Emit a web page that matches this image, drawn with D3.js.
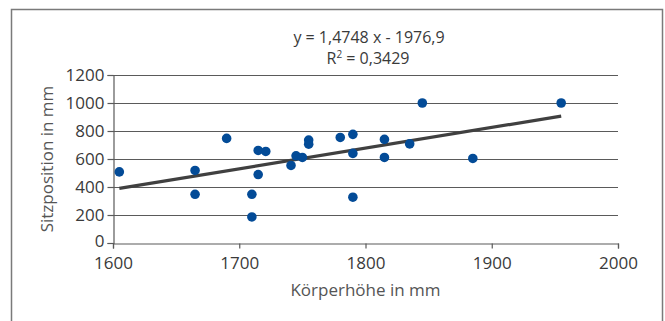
<!DOCTYPE html>
<html>
<head>
<meta charset="utf-8">
<script src="https://cdn.jsdelivr.net/npm/d3@7"></script>
<style>
  body { margin: 0; background: #fff; }
  svg text { font-family: "Open Sans", sans-serif; fill: #3a3a3a; }
</style>
</head>
<body>
<div id="chart"></div>
<script>
// Körperhöhe (mm) vs. Sitzposition (mm)
const koerperhoehe = [1605, 1665, 1665, 1690, 1715, 1721, 1715, 1710, 1710, 1741, 1745, 1750,
  1755, 1755, 1780, 1790, 1790, 1790, 1815, 1815, 1835, 1845, 1885, 1955];
const sitzposition = [508, 518, 348, 747, 661, 654, 489, 348, 186, 554, 623, 611,
  735, 706, 754, 776, 640, 327, 740, 611, 708, 1000, 604, 1000];
const xTicks = [1600, 1700, 1800, 1900, 2000];
const yTicks = [0, 200, 400, 600, 800, 1000, 1200];
const slope = 1.4748, intercept = -1976.9;
const equation = 'y = 1,4748 x - 1976,9';

const W = 665, H = 321;
const margin = { top: 75, right: 47, bottom: 78, left: 113 };
const width = W - margin.left - margin.right;
const height = H - margin.top - margin.bottom;

const svg = d3.select('#chart').append('svg')
  .attr('width', W)
  .attr('height', H);

// outer frame
svg.append('rect')
  .attr('x', 11.5).attr('y', 9.5)
  .attr('width', 651).attr('height', 330)
  .attr('fill', 'none')
  .attr('stroke', '#7a7a7a')
  .attr('stroke-width', 1.5);

const g = svg.append('g')
  .attr('transform', 'translate(' + margin.left + ',' + margin.top + ')');

const x = d3.scaleLinear().domain([1600, 2000]).range([0, width]);
const y = d3.scaleLinear().domain([0, 1200]).range([height, 0]);

// gridlines
g.selectAll('.grid')
  .data(yTicks.filter(d => d > 0))
  .enter().append('line')
  .attr('x1', 0).attr('x2', width)
  .attr('y1', d => Math.round(y(d)) + 0.5)
  .attr('y2', d => Math.round(y(d)) + 0.5)
  .attr('stroke', '#5a5a5a')
  .attr('stroke-width', 1.2);

const xAxis = g.append('g')
  .attr('transform', 'translate(0,' + (Math.round(height) + 0.5) + ')')
  .call(d3.axisBottom(x).tickValues(xTicks).tickSize(5).tickPadding(8).tickFormat(d3.format('d')));

const yAxis = g.append('g')
  .attr('transform', 'translate(0.5,0)')
  .call(d3.axisLeft(y).tickValues(yTicks).tickSize(6).tickPadding(3).tickFormat(d3.format('d')));

[xAxis, yAxis].forEach(a => {
  a.select('.domain').attr('stroke', '#5a5a5a').attr('stroke-width', 1.2);
  a.selectAll('.tick line').attr('stroke', '#5a5a5a').attr('stroke-width', 1.2);
  a.selectAll('.tick text').style('font-size', '17px').attr('fill', '#3a3a3a');
});
// the 0 label sits a bit higher so it clears 1600
yAxis.selectAll('.tick text').filter(d => d === 0).attr('dy', '0.2em');

// trend line
const x0 = d3.min(koerperhoehe), x1 = d3.max(koerperhoehe);
g.append('line')
  .attr('x1', x(x0)).attr('y1', y(slope * x0 + intercept))
  .attr('x2', x(x1)).attr('y2', y(slope * x1 + intercept))
  .attr('stroke', '#404040')
  .attr('stroke-width', 3.2);

// points
g.selectAll('circle')
  .data(koerperhoehe.map((k, i) => ({ k: k, s: sitzposition[i] })))
  .enter().append('circle')
  .attr('cx', d => x(d.k))
  .attr('cy', d => y(d.s))
  .attr('r', 4.8)
  .attr('fill', '#034b97');

// equation
svg.append('text')
  .attr('x', 369).attr('y', 43)
  .attr('text-anchor', 'middle')
  .style('font-size', '16px')
  .text(equation);
const r2 = svg.append('text')
  .attr('x', 368).attr('y', 64)
  .attr('text-anchor', 'middle')
  .style('font-size', '16px');
r2.append('tspan').text('R');
r2.append('tspan').attr('dy', -6).style('font-size', '10px').text('2');
r2.append('tspan').attr('dy', 6).text(' = 0,3429');

// axis titles
svg.append('text')
  .attr('x', margin.left + width / 2)
  .attr('y', 296)
  .attr('text-anchor', 'middle')
  .style('font-size', '17px')
  .style('fill', '#555')
  .text('Körperhöhe in mm');

svg.append('text')
  .attr('transform', 'translate(53,' + (margin.top + height / 2) + ') rotate(-90)')
  .attr('text-anchor', 'middle')
  .style('font-size', '17px')
  .style('fill', '#555')
  .text('Sitzposition in mm');
</script>
</body>
</html>
